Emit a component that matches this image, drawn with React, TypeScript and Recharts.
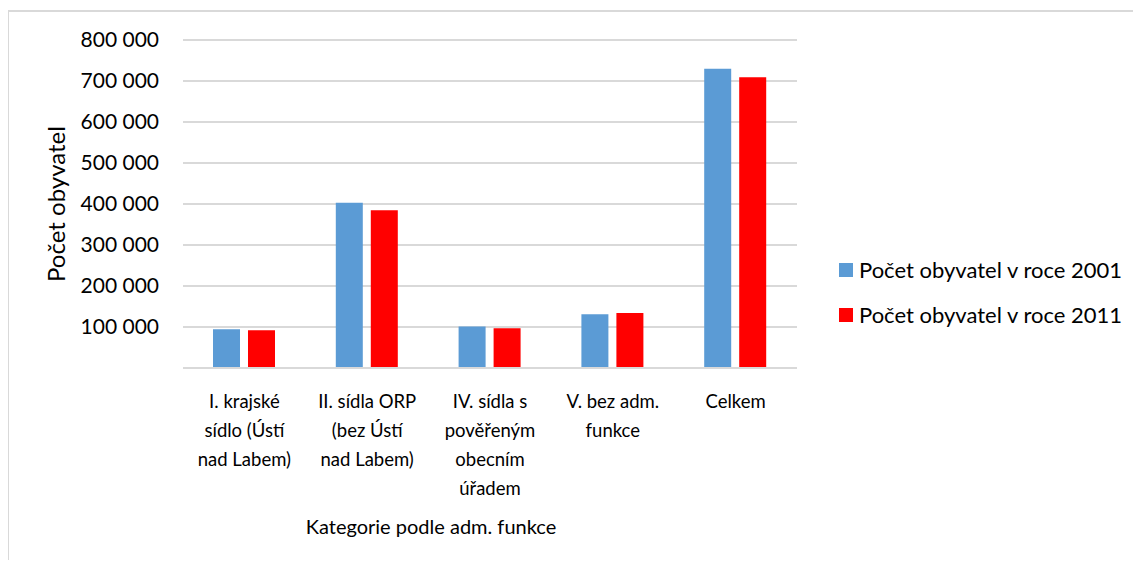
import { Bar, BarChart, CartesianGrid, Label, Legend, XAxis, YAxis } from "recharts";

// Population by administrative category, 2001 vs 2011 (Excel-style clustered columns).

const categories = [
  "I. krajské sídlo (Ústí nad Labem)",
  "II. sídla ORP (bez Ústí nad Labem)",
  "IV. sídla s pověřeným obecním úřadem",
  "V. bez adm. funkce",
  "Celkem",
];

// how each category label wraps under the axis
const categoryLines = [
  ["I. krajské", "sídlo (Ústí", "nad Labem)"],
  ["II. sídla ORP", "(bez Ústí", "nad Labem)"],
  ["IV. sídla s", "pověřeným", "obecním", "úřadem"],
  ["V. bez adm.", "funkce"],
  ["Celkem"],
];

const pop2001 = [94500, 403000, 101500, 131000, 730000];
const pop2011 = [92000, 384500, 97000, 134000, 709000];

const seriesNames = ["Počet obyvatel v roce 2001", "Počet obyvatel v roce 2011"];
const seriesColors = ["#5B9BD5", "#FF0000"];

const yTicks = [0, 100000, 200000, 300000, 400000, 500000, 600000, 700000, 800000];

const yTitle = "Počet obyvatel";
const xTitle = "Kategorie podle adm. funkce";

const data = categories.map((name, i) => ({ name, lines: categoryLines[i], y2001: pop2001[i], y2011: pop2011[i] }));

const FONT = "Lato, 'Open Sans', sans-serif";
const GRID = "#d9d9d9";

// Excel number format "### ###": thin groups, and nothing at all for zero
const formatTick = (value: number) =>
  value === 0 ? "" : String(value).replace(/\B(?=(\d{3})+(?!\d))/g, " ");

const CategoryTick = (props: any) => {
  const { x, y, index } = props;
  const lines: string[] = data[index]?.lines ?? [];
  return (
    <g>
      {lines.map((line, i) => (
        <text
          key={i}
          x={x}
          y={y + 31 + i * 29}
          textAnchor="middle"
          dominantBaseline="central"
          fill="#000"
          fontSize={18.5}
          fontFamily={FONT}
        >
          {line}
        </text>
      ))}
    </g>
  );
};

const LegendBox = () => (
  <div style={{ fontFamily: FONT, fontSize: 22, color: "#000" }}>
    {seriesNames.map((name, i) => (
      <div key={name} style={{ display: "flex", alignItems: "center", height: 45 }}>
        <span style={{ width: 14, height: 14, background: seriesColors[i], marginRight: 6 }} />
        <span>{name}</span>
      </div>
    ))}
  </div>
);

export default function App() {
  return (
    <div style={{ position: "relative", width: 1141, height: 568, margin: -8, overflow: "hidden", background: "#fff" }}>
      <div
        style={{
          position: "absolute",
          left: 7,
          top: 10,
          width: 1200,
          height: 700,
          border: `2px solid ${GRID}`,
          boxSizing: "border-box",
        }}
      />
      <div style={{ position: "absolute", left: 0, top: 0 }}>
        <BarChart
          width={1141}
          height={568}
          data={data}
          margin={{ top: 40, right: 344, bottom: 20, left: 83 }}
          barGap={8}
          barSize={27}
        >
          <CartesianGrid vertical={false} stroke={GRID} strokeWidth={1.8} />
          <XAxis
            dataKey="name"
            height={180}
            tickLine={false}
            tickSize={0}
            axisLine={{ stroke: GRID, strokeWidth: 1.8 }}
            tick={<CategoryTick />}
            interval={0}
          >
            <Label
              content={(p: any) => {
                const vb = p.viewBox;
                return (
                  <text
                    x={vb.x + vb.width / 2 - 59}
                    y={526}
                    textAnchor="middle"
                    dominantBaseline="central"
                    fontSize={20}
                    fontFamily={FONT}
                    fill="#000"
                  >
                    {xTitle}
                  </text>
                );
              }}
            />
          </XAxis>
          <YAxis
            width={100}
            domain={[0, 800000]}
            ticks={yTicks}
            interval={0}
            tickFormatter={formatTick}
            axisLine={false}
            tickLine={false}
            tickSize={0}
            tickMargin={24}
            tick={{ fill: "#000", fontSize: 21, fontFamily: FONT }}
          >
            <Label
              content={(p: any) => {
                const vb = p.viewBox;
                const cx = vb.x - 28;
                const cy = vb.y + vb.height / 2;
                return (
                  <text
                    x={cx}
                    y={cy}
                    transform={`rotate(-90 ${cx} ${cy})`}
                    textAnchor="middle"
                    dominantBaseline="central"
                    fontSize={24}
                    fontFamily={FONT}
                    fill="#000"
                  >
                    {yTitle}
                  </text>
                );
              }}
            />
          </YAxis>
          <Legend
            layout="vertical"
            align="center"
            verticalAlign="middle"
            content={<LegendBox />}
            wrapperStyle={{ position: "absolute", left: 839, top: 247, width: 300 }}
          />
          <Bar dataKey="y2001" name={seriesNames[0]} fill={seriesColors[0]} isAnimationActive={false} />
          <Bar dataKey="y2011" name={seriesNames[1]} fill={seriesColors[1]} isAnimationActive={false} />
        </BarChart>
      </div>
    </div>
  );
}
